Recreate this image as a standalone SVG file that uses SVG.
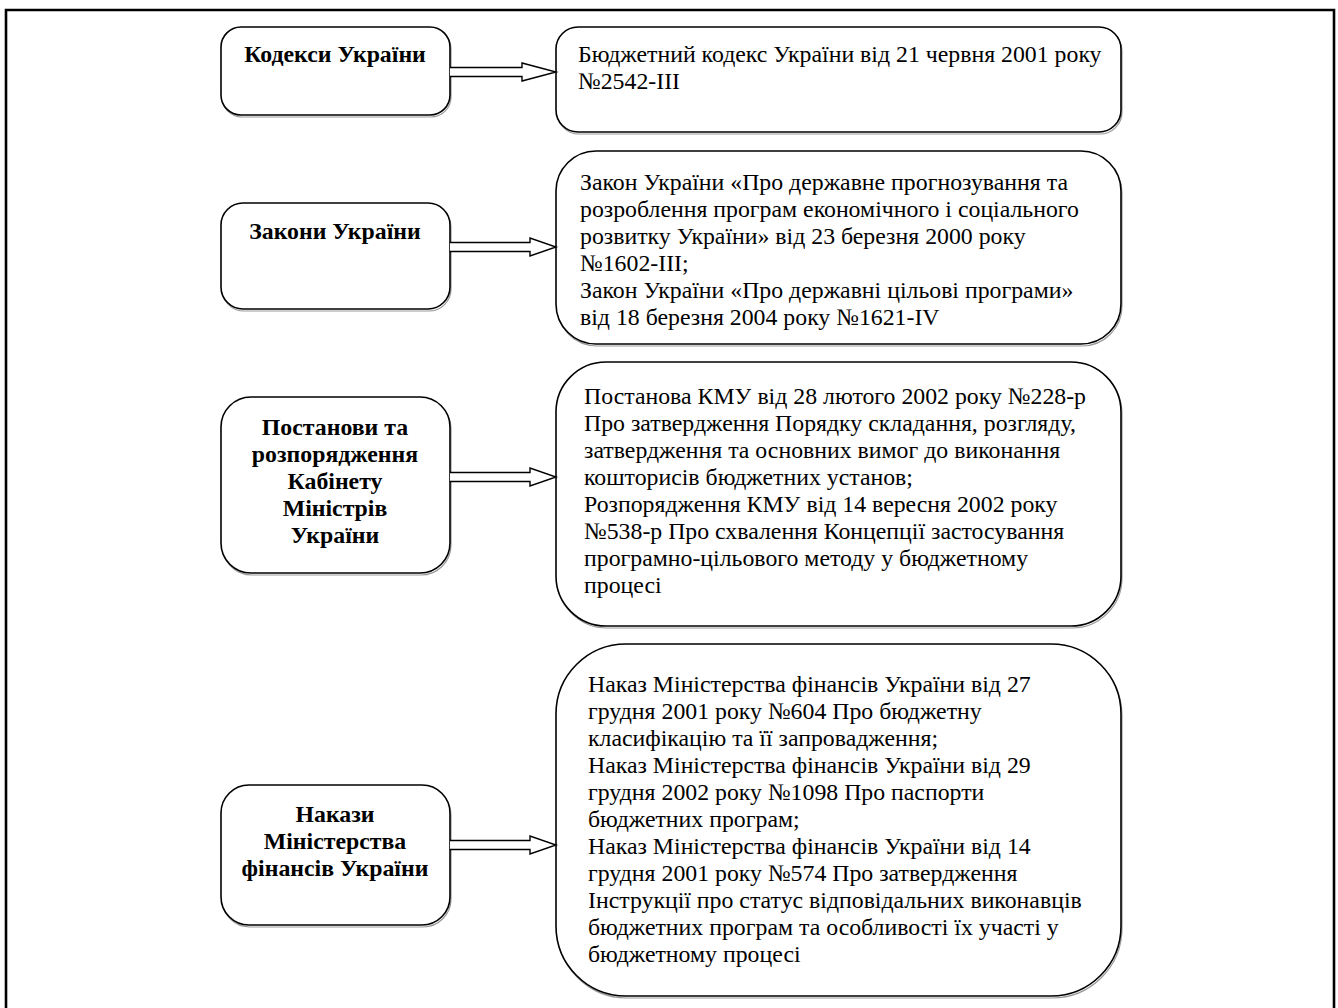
<svg xmlns="http://www.w3.org/2000/svg" width="1338" height="1008" viewBox="0 0 1338 1008">
<style>
.box{fill:#fff;stroke:#000;stroke-width:1.6}
.sh{fill:none;stroke:#999;stroke-width:1.2}
.lt{font-family:"Liberation Serif","Times New Roman",serif;font-size:23.8px;font-weight:bold;text-anchor:middle;fill:#000}
.rt{font-family:"Liberation Serif","Times New Roman",serif;font-size:23.8px;fill:#000}
.ar{fill:#fff;stroke:#000;stroke-width:1.4;stroke-linejoin:miter}
</style>
<rect x="0" y="0" width="1338" height="1008" fill="#fff"/>
<path d="M6 1010 V10 H1334 V1010" fill="none" stroke="#000" stroke-width="2.6"/>

<g id="n1">
<rect class="sh" x="222" y="29" width="229" height="88" rx="20"/>
<rect class="box" x="221" y="27" width="229" height="88" rx="20"/>
<text class="lt" x="335" y="62">Кодекси України</text>
</g>
<g id="n1r">
<rect class="sh" x="557" y="29" width="565" height="105" rx="22"/>
<rect class="box" x="556" y="27" width="565" height="105" rx="22"/>
<text class="rt" x="578" y="62">Бюджетний кодекс України від 21 червня 2001 року</text>
<text class="rt" x="578" y="89">№2542-III</text>
</g>

<g id="n2">
<rect class="sh" x="222" y="205" width="229" height="106" rx="22"/>
<rect class="box" x="221" y="203" width="229" height="106" rx="22"/>
<text class="lt" x="335" y="239">Закони України</text>
</g>
<g id="n2r">
<rect class="sh" x="557" y="153" width="565" height="193" rx="40"/>
<rect class="box" x="556" y="151" width="565" height="193" rx="40"/>
<g class="rt">
<text x="580" y="190">Закон України «Про державне прогнозування та</text>
<text x="580" y="217">розроблення програм економічного і соціального</text>
<text x="580" y="244">розвитку України» від 23 березня 2000 року</text>
<text x="580" y="271">№1602-III;</text>
<text x="580" y="298">Закон України «Про державні цільові програми»</text>
<text x="580" y="325">від 18 березня 2004 року №1621-IV</text>
</g>
</g>

<g id="n3">
<rect class="sh" x="222" y="399" width="229" height="176" rx="30"/>
<rect class="box" x="221" y="397" width="229" height="176" rx="30"/>
<text class="lt" x="335" y="435">Постанови та</text>
<text class="lt" x="335" y="462">розпорядження</text>
<text class="lt" x="335" y="489">Кабінету</text>
<text class="lt" x="335" y="516">Міністрів</text>
<text class="lt" x="335" y="543">України</text>
</g>
<g id="n3r">
<rect class="sh" x="557" y="364" width="565" height="264" rx="50"/>
<rect class="box" x="556" y="362" width="565" height="264" rx="50"/>
<g class="rt">
<text x="584" y="404">Постанова КМУ від 28 лютого 2002 року №228-р</text>
<text x="584" y="431">Про затвердження Порядку складання, розгляду,</text>
<text x="584" y="458">затвердження та основних вимог до виконання</text>
<text x="584" y="485">кошторисів бюджетних установ;</text>
<text x="584" y="512">Розпорядження КМУ від 14 вересня 2002 року</text>
<text x="584" y="539">№538-р Про схвалення Концепції застосування</text>
<text x="584" y="566">програмно-цільового методу у бюджетному</text>
<text x="584" y="593">процесі</text>
</g>
</g>

<g id="n4">
<rect class="sh" x="222" y="787" width="229" height="140" rx="28"/>
<rect class="box" x="221" y="785" width="229" height="140" rx="28"/>
<text class="lt" x="335" y="822">Накази</text>
<text class="lt" x="335" y="849">Міністерства</text>
<text class="lt" x="335" y="876">фінансів України</text>
</g>
<g id="n4r">
<rect class="sh" x="557" y="646" width="565" height="352" rx="70"/>
<rect class="box" x="556" y="644" width="565" height="352" rx="70"/>
<g class="rt">
<text x="588" y="692">Наказ Міністерства фінансів України від 27</text>
<text x="588" y="719">грудня 2001 року №604 Про бюджетну</text>
<text x="588" y="746">класифікацію та її запровадження;</text>
<text x="588" y="773">Наказ Міністерства фінансів України від 29</text>
<text x="588" y="800">грудня 2002 року №1098 Про паспорти</text>
<text x="588" y="827">бюджетних програм;</text>
<text x="588" y="854">Наказ Міністерства фінансів України від 14</text>
<text x="588" y="881">грудня 2001 року №574 Про затвердження</text>
<text x="588" y="908">Інструкції про статус відповідальних виконавців</text>
<text x="588" y="935">бюджетних програм та особливості їх участі у</text>
<text x="588" y="962">бюджетному процесі</text>
</g>
</g>

<g id="connectors">
<path class="ar" d="M450 67.5 H522 V63 L556 72 L522 81 V76.5 H450"/>
<path class="ar" d="M450 242.5 H530 V238 L556 247 L530 256 V251.5 H450"/>
<path class="ar" d="M450 472.5 H530 V468 L556 477 L530 486 V481.5 H450"/>
<path class="ar" d="M450 840.5 H530 V836 L556 845 L530 854 V849.5 H450"/>
</g>
</svg>
